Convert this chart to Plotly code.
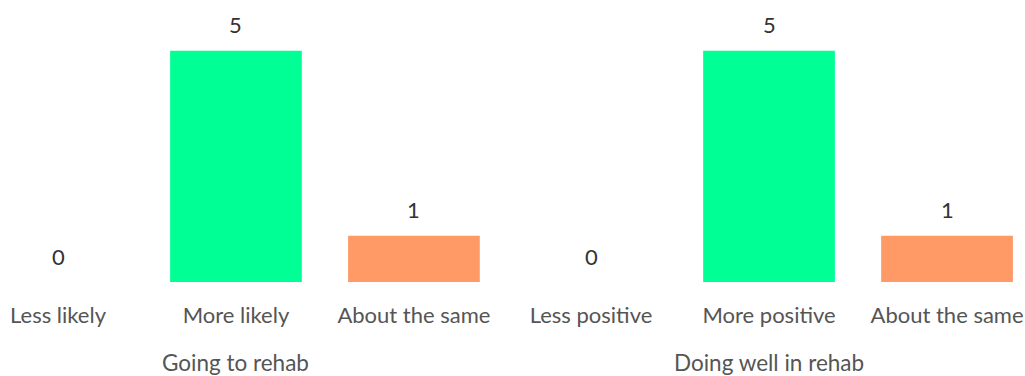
import plotly.graph_objects as go

left_title = "Going to rehab"
right_title = "Doing well in rehab"
left_categories = ["Less likely", "More likely", "About the same"]
right_categories = ["Less positive", "More positive", "About the same"]
left_values = [0, 5, 1]
right_values = [0, 5, 1]
bar_colors = ["#00FF95", "#00FF95", "#FF9966"]

FONT = "Lato, 'Source Sans Pro', sans-serif"
fig = go.Figure()

fig.add_trace(go.Bar(x=left_categories, y=left_values, marker_color=bar_colors,
                     marker_line_width=0,
                     width=0.74, xaxis="x", yaxis="y", showlegend=False, hoverinfo="x+y"))
fig.add_trace(go.Bar(x=right_categories, y=right_values, marker_color=bar_colors,
                     marker_line_width=0,
                     width=0.74, xaxis="x2", yaxis="y2", showlegend=False, hoverinfo="x+y"))

annotations = []
for cats, vals, title, xa, ya in [(left_categories, left_values, left_title, "x", "y"),
                                  (right_categories, right_values, right_title, "x2", "y2")]:
    for c, v in zip(cats, vals):
        annotations.append(dict(x=c, y=v, xref=xa, yref=ya, text=str(v), showarrow=False,
                                yshift=26, font=dict(family=FONT, size=22, color="#333333")))
    # group title centred under the middle category
    annotations.append(dict(x=cats[1], y=0, xref=xa, yref="paper", text=title,
                            showarrow=False, yanchor="middle", yshift=-80,
                            font=dict(family=FONT, size=22.5, color="#555555")))

axis_common = dict(showgrid=False, zeroline=False, showline=False, ticks="outside",
                   ticklen=14, tickcolor="rgba(0,0,0,0)",
                   tickfont=dict(family=FONT, size=22, color="#555555"))
yaxis_common = dict(visible=False, range=[0, 6.1], fixedrange=True)

fig.update_layout(
    width=1025, height=376,
    margin=dict(l=0, r=0, t=0, b=94),
    paper_bgcolor="white", plot_bgcolor="white",
    xaxis=dict(domain=[0, 0.4995], range=[-0.326, 2.551], anchor="y", **axis_common),
    xaxis2=dict(domain=[0.4995, 1], range=[-0.444, 2.438], anchor="y2", **axis_common),
    yaxis=dict(anchor="x", **yaxis_common),
    yaxis2=dict(anchor="x2", **yaxis_common),
    annotations=annotations,
)

fig.write_html("out.html", config={"displayModeBar": False})
